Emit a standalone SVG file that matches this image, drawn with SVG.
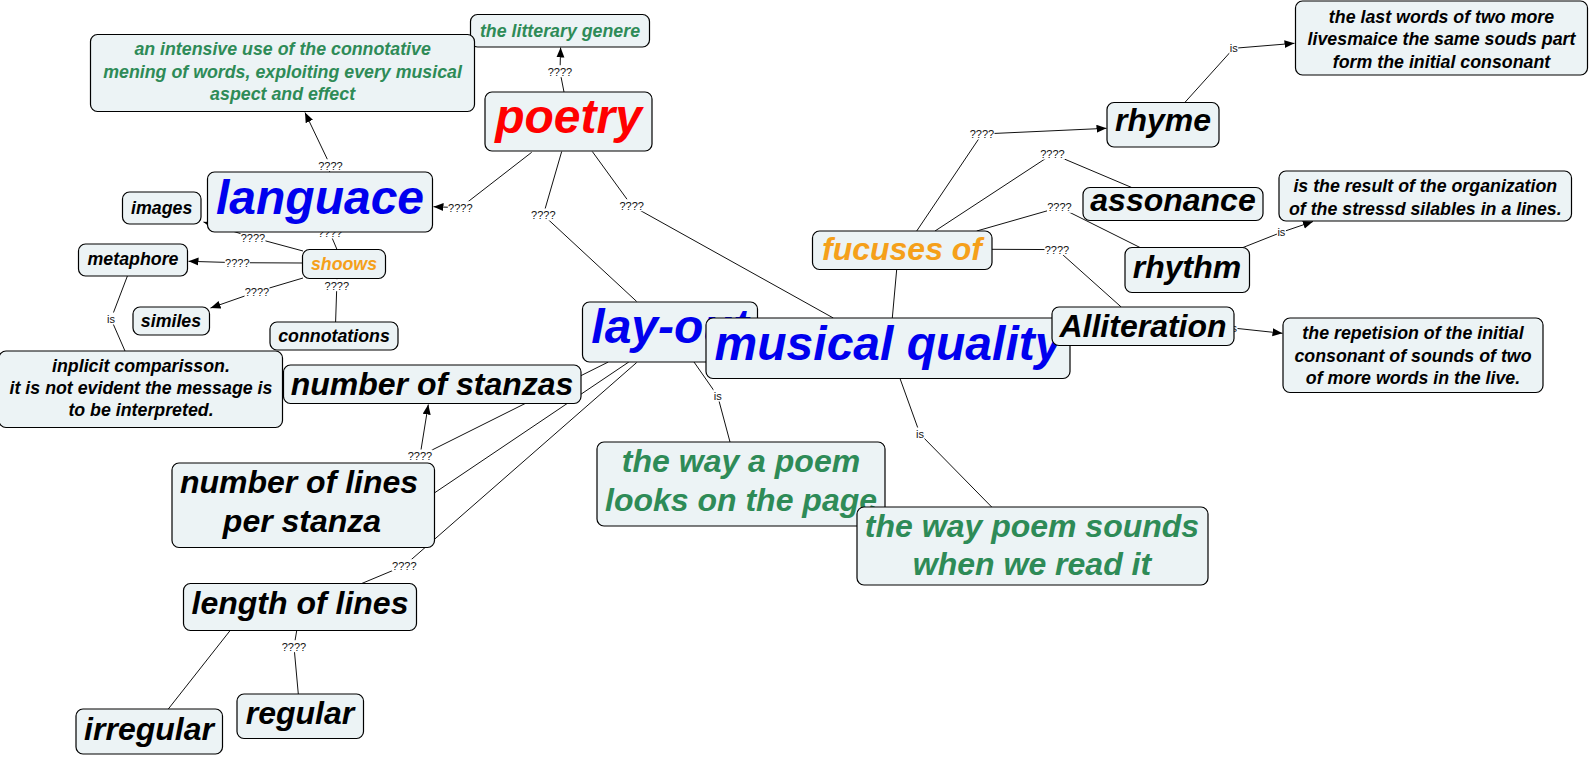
<svg xmlns="http://www.w3.org/2000/svg" width="1591" height="757" viewBox="0 0 1591 757">
<defs>
<marker id="arr" markerUnits="userSpaceOnUse" markerWidth="11" markerHeight="9" refX="10" refY="4" orient="auto"><path d="M0,0 L10,4 L0,8 z" fill="#000"/></marker>
</defs>
<style>
.n rect{fill:#ecf3f5;stroke:#000;stroke-width:1.2}
.n text{font-family:"Liberation Sans",Arial,sans-serif;font-weight:bold;font-style:italic;text-anchor:middle}
.s{font-size:17.8px}
.m{font-size:32px}
.L{font-size:48px}
.k{fill:#000}.b{fill:#0000ee}.r{fill:#ff0000}.g{fill:#2e8b57}.o{fill:#f5a01a}
.c polyline{stroke:#111;stroke-width:1;fill:none}
.c polyline.a{marker-end:url(#arr)}
.lb rect{fill:#fff}
.lb text{font-family:"Liberation Sans",Arial,sans-serif;font-size:11px;fill:#111;text-anchor:middle}
</style>
<g id="connectors" class="c">
<polyline class="a" points="564,92 560,71.7 560.6,47.5"/>
<polyline class="a" points="531.7,152.3 460.3,207.7 433.5,206.7"/>
<polyline points="561.7,151.5 543.3,215 636.7,301.5"/>
<polyline points="592.3,151.5 631.7,205.7 833.3,318"/>
<polyline class="a" points="329.5,172 330.4,165.7 305,112.5"/>
<polyline points="320,210 330,233 337,249.5"/>
<polyline class="a" points="303,251 253,237.5 203.5,222"/>
<polyline class="a" points="302.5,263 237.3,262.7 188.5,261.3"/>
<polyline class="a" points="303,278 257,291.7 210.5,308"/>
<polyline points="337,278.5 336.8,285.7 335.6,322"/>
<polyline points="127.4,276 111,319 125,351"/>
<polyline class="a" points="608.3,362 420,456 428.3,404.5"/>
<polyline points="628.8,362 434.3,493"/>
<polyline points="636.7,362.5 404.3,565.7 361.7,583.5"/>
<polyline points="296.7,630.7 294,646.7 298.3,694"/>
<polyline points="230,630.7 168.3,709"/>
<polyline points="694,362 717.7,396 730,442"/>
<polyline points="900,378.5 920,434 991.7,507"/>
<polyline points="892.3,318 896.7,269.5"/>
<polyline class="a" points="916.7,231 982,134 1106.5,128.3"/>
<polyline points="935,231 1052.5,154 1131.7,187.5"/>
<polyline points="976.7,231 1059.5,207.3 1140,247.5"/>
<polyline points="992,249.3 1057,249.6 1121.2,307"/>
<polyline class="a" points="1184.8,102.5 1233.7,48.3 1294.5,43.3"/>
<polyline class="a" points="1243,247.5 1281.4,232.3 1313,221.5"/>
<polyline class="a" points="1143,326 1233,328 1282.5,333.3"/>
<g class="lb">
<rect x="547.5" y="65.2" width="25" height="12"/><text x="560" y="75.7">????</text>
<rect x="447.8" y="201.2" width="25" height="12"/><text x="460.3" y="211.7">????</text>
<rect x="530.8" y="208.5" width="25" height="12"/><text x="543.3" y="219">????</text>
<rect x="619.2" y="199.2" width="25" height="12"/><text x="631.7" y="209.7">????</text>
<rect x="317.9" y="159.2" width="25" height="12"/><text x="330.4" y="169.7">????</text>
<rect x="317.5" y="226.5" width="25" height="12"/><text x="330" y="237">????</text>
<rect x="240.5" y="231" width="25" height="12"/><text x="253" y="241.5">????</text>
<rect x="224.8" y="256.2" width="25" height="12"/><text x="237.3" y="266.7">????</text>
<rect x="244.5" y="285.2" width="25" height="12"/><text x="257" y="295.7">????</text>
<rect x="324.3" y="279.2" width="25" height="12"/><text x="336.8" y="289.7">????</text>
<rect x="106.5" y="312.5" width="9" height="12"/><text x="111" y="323">is</text>
<rect x="407.5" y="449.5" width="25" height="12"/><text x="420" y="460">????</text>
<rect x="391.8" y="559.2" width="25" height="12"/><text x="404.3" y="569.7">????</text>
<rect x="281.5" y="640.2" width="25" height="12"/><text x="294" y="650.7">????</text>
<rect x="713.2" y="389.5" width="9" height="12"/><text x="717.7" y="400">is</text>
<rect x="915.5" y="427.5" width="9" height="12"/><text x="920" y="438">is</text>
<rect x="969.5" y="127.5" width="25" height="12"/><text x="982" y="138">????</text>
<rect x="1040" y="147.5" width="25" height="12"/><text x="1052.5" y="158">????</text>
<rect x="1047" y="200.8" width="25" height="12"/><text x="1059.5" y="211.3">????</text>
<rect x="1044.5" y="243.1" width="25" height="12"/><text x="1057" y="253.6">????</text>
<rect x="1229.2" y="41.8" width="9" height="12"/><text x="1233.7" y="52.3">is</text>
<rect x="1276.9" y="225.8" width="9" height="12"/><text x="1281.4" y="236.3">is</text>
<rect x="1228.5" y="321.5" width="9" height="12"/><text x="1233" y="332">is</text>
</g>
</g>
<g id="poetry" class="n"><rect x="485" y="92" width="167" height="59" rx="7"/><text class="L r" x="568.5" y="133">poetry</text></g>
<g id="litterary" class="n"><rect x="470.5" y="14.5" width="179" height="32.5" rx="7"/><text class="s g" x="560" y="36.5">the litterary genere</text></g>
<g id="intensive" class="n"><rect x="90.5" y="34.5" width="384" height="77" rx="7"/><text class="s g"><tspan x="282.6" y="55">an intensive use of the connotative</tspan><tspan x="282.6" y="77.5">mening of words, exploiting every musical</tspan><tspan x="282.6" y="100">aspect and effect</tspan></text></g>
<g id="languace" class="n"><rect x="207.5" y="172" width="225" height="60" rx="7"/><text class="L b" x="320" y="214">languace</text></g>
<g id="images" class="n"><rect x="122.5" y="192" width="78.5" height="32" rx="7"/><text class="s k" x="161.7" y="213.5">images</text></g>
<g id="shoows" class="n"><rect x="302.5" y="249.5" width="83" height="29" rx="7"/><text class="s o" x="344" y="270">shoows</text></g>
<g id="metaphore" class="n"><rect x="78.5" y="244" width="109" height="32" rx="7"/><text class="s k" x="133" y="265">metaphore</text></g>
<g id="similes" class="n"><rect x="133" y="307" width="76.5" height="28" rx="7"/><text class="s k" x="171" y="327">similes</text></g>
<g id="connotations" class="n"><rect x="270" y="322" width="128" height="28" rx="7"/><text class="s k" x="334" y="341.5">connotations</text></g>
<g id="implicit" class="n"><rect x="-1" y="351" width="283.5" height="76.5" rx="7"/><text class="s k"><tspan x="141" y="371.5">inplicit comparisson.</tspan><tspan x="141" y="393.8">it is not evident the message is</tspan><tspan x="141" y="416">to be interpreted.</tspan></text></g>
<g id="stanzas" class="n"><rect x="283.5" y="365" width="297.5" height="38.5" rx="7"/><text class="m k" x="432" y="395">number of stanzas</text></g>
<g id="numlines" class="n"><rect x="172" y="463" width="262.5" height="84.5" rx="7"/><text class="m k"><tspan x="299" y="492.5">number of lines</tspan><tspan x="302" y="531.5">per stanza</tspan></text></g>
<g id="length" class="n"><rect x="183.5" y="583.5" width="233" height="47" rx="7"/><text class="m k" x="300" y="614">length of lines</text></g>
<g id="regular" class="n"><rect x="237" y="694" width="126.5" height="44.5" rx="7"/><text class="m k" x="300" y="724">regular</text></g>
<g id="irregular" class="n"><rect x="76" y="709" width="146.5" height="45" rx="7"/><text class="m k" x="149" y="739.5">irregular</text></g>
<g id="layout" class="n"><rect x="582.5" y="302" width="175" height="60" rx="7"/><text class="L b" x="670" y="343">lay-out</text></g>
<g id="wayapoem" class="n"><rect x="597" y="442" width="288" height="84" rx="7"/><text class="m g"><tspan x="741" y="472">the way a poem</tspan><tspan x="741" y="511">looks on the page</tspan></text></g>
<g id="musical" class="n"><rect x="706" y="318" width="364" height="60.5" rx="7"/><text class="L b" x="888" y="360">musical quality</text></g>
<g id="waysounds" class="n"><rect x="857" y="507" width="351" height="78" rx="7"/><text class="m g"><tspan x="1032" y="537">the way poem sounds</tspan><tspan x="1032" y="575">when we read it</tspan></text></g>
<g id="fucuses" class="n"><rect x="812.5" y="231" width="179.5" height="38.5" rx="7"/><text class="m o" x="902" y="260">fucuses of</text></g>
<g id="rhyme" class="n"><rect x="1107" y="102.5" width="112" height="44.5" rx="7"/><text class="m k" x="1163" y="131">rhyme</text></g>
<g id="assonance" class="n"><rect x="1083" y="187.5" width="180" height="33" rx="7"/><text class="m k" x="1173" y="211">assonance</text></g>
<g id="rhythm" class="n"><rect x="1125" y="247.5" width="124.5" height="45" rx="7"/><text class="m k" x="1187" y="278">rhythm</text></g>
<g id="alliteration" class="n"><rect x="1052" y="307" width="182" height="38.5" rx="7"/><text class="m k" x="1143" y="336.5">Alliteration</text></g>
<g id="lastwords" class="n"><rect x="1295.5" y="1" width="292" height="74" rx="7"/><text class="s k"><tspan x="1441.5" y="22.5">the last words of two more</tspan><tspan x="1441.5" y="45">livesmaice the same souds part</tspan><tspan x="1441.5" y="67.5">form the initial consonant</tspan></text></g>
<g id="organization" class="n"><rect x="1279" y="171" width="292.5" height="50" rx="7"/><text class="s k"><tspan x="1425.3" y="192">is the result of the organization</tspan><tspan x="1425.3" y="214.5">of the stressd silables in a lines.</tspan></text></g>
<g id="repetision" class="n"><rect x="1283" y="318" width="260" height="74.5" rx="7"/><text class="s k"><tspan x="1413" y="339">the repetision of the initial</tspan><tspan x="1413" y="361.5">consonant of sounds of two</tspan><tspan x="1413" y="384">of more words in the live.</tspan></text></g>
</svg>
